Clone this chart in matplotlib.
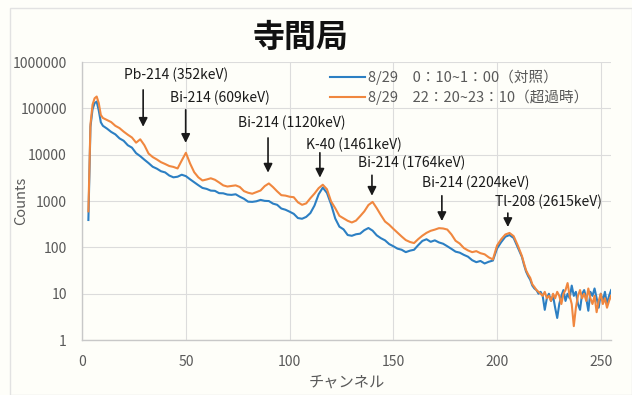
import matplotlib
matplotlib.use("Agg")
import matplotlib.pyplot as plt
from matplotlib.patches import Rectangle

plt.rcParams['font.family'] = ['Noto Sans CJK JP', 'DejaVu Sans']

# channel numbers (finer steps at the start and in the noisy tail)
channels = [3, 4, 5, 6, 7, 8, 9] + list(range(10, 212, 2)) + list(range(212, 256))

# 8/29 0:10-1:00 (control)
counts_control = [
    390, 40000, 95000, 130000, 140000, 90000, 50000,
    # 10 .. 48
    42000, 36500, 31000, 27500, 22500, 20000, 16000, 14200, 10800, 9300,
    7800, 6600, 5500, 5000, 4400, 4150, 3550, 3250, 3350, 3700,
    # 50 .. 88
    3450, 2950, 2550, 2200, 1920, 1830, 1680, 1660, 1480, 1470,
    1380, 1360, 1400, 1240, 1120, 970, 960, 990, 1060, 1010,
    # 90 .. 128
    1000, 880, 830, 690, 650, 590, 530, 430, 415, 455,
    550, 800, 1400, 1950, 1500, 850, 420, 280, 245, 185,
    # 130 .. 168
    178, 192, 198, 235, 262, 230, 182, 158, 142, 118,
    106, 94, 89, 79, 85, 89, 112, 138, 150, 132,
    # 170 .. 210
    142, 128, 120, 106, 93, 81, 77, 69, 63, 53,
    48, 51, 45, 49, 52, 95, 130, 170, 185, 160, 100,
    # 212 .. 255
    62, 42, 30, 24, 20, 15, 13, 12, 10, 11,
    9, 4.5, 8, 10, 7, 9, 5, 3, 6, 9,
    12, 7, 10, 8, 15, 9, 11, 6, 4.5, 10,
    12, 8, 4.3, 11, 9, 13, 8, 5, 10, 7,
    11, 6, 9, 12,
]

# 8/29 22:20-23:10 (exceedance)
counts_excess = [
    600, 45000, 120000, 165000, 180000, 130000, 72000,
    # 10 .. 48
    62000, 56000, 50500, 42000, 37500, 31500, 27000, 23500, 18200, 21500,
    16000, 10600, 8900, 7900, 6900, 6300, 5700, 5450, 5050, 7500,
    # 50 .. 88
    11000, 6500, 4200, 3250, 2780, 2920, 3100, 2880, 2520, 2180,
    2060, 2120, 2180, 2010, 1640, 1510, 1440, 1560, 1690, 2100,
    # 90 .. 128
    2400, 2000, 1620, 1340, 1310, 1240, 1210, 940, 830, 890,
    1150, 1450, 1900, 2250, 1800, 980, 700, 480, 425, 375,
    # 130 .. 168
    345, 378, 472, 598, 822, 958, 702, 498, 362, 308,
    252, 208, 172, 144, 131, 124, 151, 179, 206, 228,
    # 170 .. 210
    242, 260, 256, 243, 191, 139, 121, 97, 86, 79,
    83, 75, 71, 61, 55, 110, 150, 190, 205, 175, 110,
    # 212 .. 255
    65, 45, 32, 26, 22, 16, 14, 12, 11, 10,
    9, 11, 8, 9, 7, 10, 8, 11, 9, 6,
    10, 12, 17, 9, 6, 2, 5, 9, 12, 8,
    10, 7, 13, 8, 6, 9, 4, 7, 10, 6,
    8, 5, 7, 9,
]

legend_labels = ["8/29\u30000\uff1a10~1\uff1a00\uff08対照\uff09",
                 "8/29\u300022\uff1a20~23\uff1a10\uff08超過時\uff09"]

# peak labels: text, arrow channel, arrow top/tip counts, text position
peak_names = ["Pb-214 (352keV)", "Bi-214 (609keV)", "Bi-214 (1120keV)",
              "K-40 (1461keV)", "Bi-214 (1764keV)", "Bi-214 (2204keV)",
              "Tl-208 (2615keV)"]
peak_channels = [29.4, 49.9, 89.6, 114.6, 139.7, 173.4, 205.2]
arrow_tops = [2.5e5, 9.3e4, 2.3e4, 1.1e4, 3.6e3, 1.3e3, 5.5e2]
arrow_tips = [4.0e4, 1.8e4, 4.1e3, 3.2e3, 1.3e3, 3.7e2, 2.75e2]
label_x = [45.3, 66.5, 100.8, 131.2, 159.0, 189.8, 225.0]
label_y = [5.2e5, 1.7e5, 4.9e4, 1.6e4, 6.6e3, 2.45e3, 9.5e2]

blue = '#2C7FC3'
orange = '#F0873F'
gray = '#595959'

fig = plt.figure(figsize=(6.32, 3.95), dpi=100, facecolor='#fefef9')
ax = fig.add_axes([0.130, 0.139, 0.837, 0.704])
ax.set_facecolor('#fefef9')

ax.plot(channels, counts_control, color=blue, lw=1.5, label=legend_labels[0])
ax.plot(channels, counts_excess, color=orange, lw=1.5, label=legend_labels[1])

ax.set_yscale('log')
ax.set_ylim(1, 1e6)
ax.set_xlim(0, 255)
ax.set_xticks([0, 50, 100, 150, 200, 250])
ytick_vals = [1, 10, 100, 1000, 10000, 100000, 1000000]
ax.set_yticks(ytick_vals)
ax.set_yticklabels([str(v) for v in ytick_vals])
ax.minorticks_off()
ax.tick_params(length=0, colors=gray, labelsize=10)
ax.tick_params(axis='y', pad=11)
ax.tick_params(axis='x', pad=11)
ax.grid(True, color='#dcdcdc', lw=0.8)
ax.set_axisbelow(True)
for s in ['top', 'right']:
    ax.spines[s].set_visible(False)
for s in ['left', 'bottom']:
    ax.spines[s].set_color('#c8c8c8')
    ax.spines[s].set_linewidth(1.0)

ax.set_ylabel('Counts', color=gray, fontsize=10.5)
ax.yaxis.set_label_coords(-0.103, 0.5)
ax.set_xlabel('チャンネル', color=gray, fontsize=11, labelpad=3)

for name, cx, top, tip, tx, ty in zip(peak_names, peak_channels, arrow_tops,
                                      arrow_tips, label_x, label_y):
    ax.annotate('', xy=(cx, tip), xytext=(cx, top),
                arrowprops=dict(arrowstyle='-|>', color='#1a1a1a', lw=1.2,
                                mutation_scale=13, shrinkA=0, shrinkB=0))
    ax.text(tx, ty, name, ha='center', va='center', fontsize=10,
            color='#1a1a1a')

ax.legend(loc='upper left', bbox_to_anchor=(0.455, 1.0), frameon=False,
          fontsize=10.5, handlelength=2.4, handletextpad=0.2,
          labelspacing=0.35, borderaxespad=0.1, labelcolor=gray)

fig.text(0.475, 0.903, '寺間局', ha='center', va='center', fontsize=23,
         fontweight='bold', color='#111111')

fig.patches.append(Rectangle((0.016, 0.0), 0.984, 0.98, transform=fig.transFigure,
                             fill=False, edgecolor='#e2e2e2', lw=1.0))

fig.savefig('out.png', dpi=100, facecolor=fig.get_facecolor())
